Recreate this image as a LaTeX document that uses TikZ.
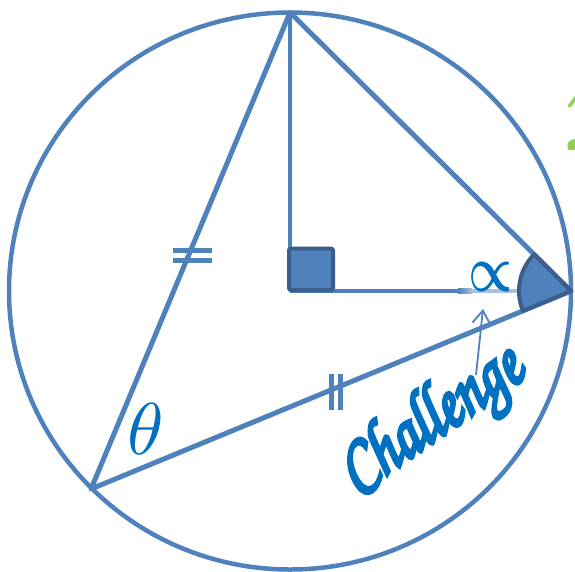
\documentclass[tikz,border=0pt]{standalone}
\usepackage[T1,TU]{fontenc}
\usepackage{amsmath,bm}
\usetikzlibrary{arrows.meta}
\definecolor{lineblue}{HTML}{4F81BD}
\definecolor{darkblue}{HTML}{3B5E8D}
\definecolor{textblue}{HTML}{0070C0}
\definecolor{fadeblue}{HTML}{A9C1DF}
\definecolor{leafgreen}{HTML}{92D050}
\newcommand{\chancery}{\usefont{T1}{pzc}{mb}{it}}
\newcommand{\fakebold}[1]{\special{pdf:literal direct 2 Tr 0.5 w}#1\special{pdf:literal direct 0 Tr}}
\tikzset{
  rim/.style={draw=lineblue, line width=4.5pt},
  side/.style={draw=lineblue, line width=5pt, line cap=round, line join=round},
  radial/.style={draw=lineblue, line width=4.5pt},
  tickmark/.style={draw=lineblue, line width=5pt},
  anglemark/.style={fill=lineblue, draw=darkblue, line width=4pt, line join=round},
  label/.style={text=textblue, inner sep=0pt},
}
\begin{document}
\begin{tikzpicture}[x=1pt,y=-1pt]
\useasboundingbox (0,0) rectangle (575,571);
% points
\coordinate (O) at (290,291);
\coordinate (T) at (290,12.5);
\coordinate (R) at (571,291);
\coordinate (L) at (91,489);
% circle
\draw[rim] (O) ellipse [x radius=281, y radius=278.5];
% radii
\draw[radial] (O) -- (T);
\draw[radial] (O) -- (460,291);
\shade[left color=lineblue, right color=fadeblue] (458,288.8) rectangle (472,293.2);
\draw[draw=fadeblue, line width=4.4pt] (471,291) -- (R);
% triangle
\draw[side] (T) -- (R) -- (L) -- cycle;
% right-angle square
\draw[anglemark, rounded corners=1.5pt] (289,248.5) rectangle (333,290);
% angle wedge at R
\draw[anglemark] (R) -- ++(157.5:52) arc[start angle=157.5, end angle=224.8, radius=52] -- cycle;
% tick marks
\draw[tickmark] (173,250.5) -- (212,250.5);
\draw[tickmark] (173,260.5) -- (212,260.5);
\draw[tickmark] (331,374) -- (331,410);
\draw[tickmark] (340,374) -- (340,410);
% labels
\node[label] (prop) at (490,277) {\resizebox{44pt}{29pt}{$\bm{\propto}$}};
\node[label] (theta) at (146,429) {\resizebox{!}{51pt}{$\theta$}};
\node[label, rotate=35] (chal) at (433,423) {\resizebox*{208pt}{79pt}{\chancery\fakebold{Challenge}}};
% arrow
\coordinate (as) at (476,375);
\coordinate (ae) at (483,309);
\draw[lineblue, line width=1.8pt, -{Straight Barb[length=13pt,width=18pt]}] (as) -- (ae);
% green fragments at the right edge
\draw[leafgreen, line width=3.5pt, line cap=round] (569.5,106) -- (577,96);
\fill[leafgreen, rounded corners=2pt] (567.5,142) -- (576,138) -- (576,150) -- (567.5,150) -- cycle;
\end{tikzpicture}
\end{document}
